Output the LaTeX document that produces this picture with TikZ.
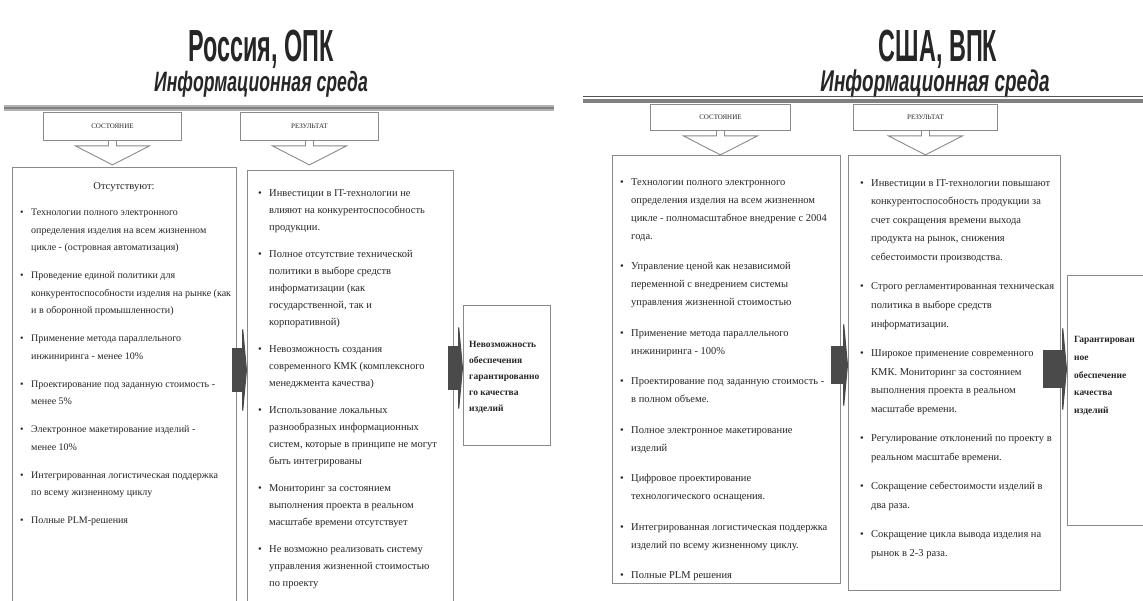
\documentclass[tikz,border=0pt]{standalone}
\usepackage{fontspec}
\setmainfont{Liberation Serif}
\newfontfamily\titlefont[FakeStretch=0.52]{Liberation Sans}
\newfontfamily\subfont[FakeStretch=0.63]{Liberation Sans}
\usetikzlibrary{arrows.meta,calc,positioning}
\definecolor{inkdark}{HTML}{262626}
\definecolor{boxgray}{HTML}{8A8A8A}
\definecolor{rulegray}{HTML}{808080}
\definecolor{linkdark}{HTML}{4A4A4A}
\tikzset{every node/.append style={text=inkdark}}
\tikzset{
  panel/.style={draw=boxgray,line width=0.9pt,anchor=north west,inner sep=0pt},
  headbox/.style={draw=boxgray,line width=0.9pt,anchor=north west,inner sep=0pt,
    font=\fontsize{7}{8}\selectfont},
  listtext/.style={anchor=north west,align=left,inner sep=0pt},
  verdict/.style={anchor=north west,align=left,inner sep=0pt},
  bigtitle/.style={font=\titlefont\bfseries\fontsize{45}{45}\selectfont,inner sep=0pt,anchor=base},
  subtitle/.style={font=\subfont\bfseries\itshape\fontsize{28}{28}\selectfont,inner sep=0pt,anchor=base},
  blockarrow/.style={draw=linkdark,line width=44pt,-{Triangle[width=108pt,length=5pt]}},
  headpointer/.pic={\draw[boxgray,line width=0.9pt]
    (-4,0) -- (-4,5) -- (-37,5) -- (0,24) -- (37,5) -- (4,5) -- (4,0);}
}
\newcommand\bul{\makebox[11pt][l]{\textbullet}}
\newcommand\ind{\hspace*{11pt}}

\begin{document}
\begin{tikzpicture}[x=1pt,y=-1pt]
  \useasboundingbox (0,0) rectangle (1143,601);
  \clip (0,0) rectangle (1143,601);
  \fill[white] (0,0) rectangle (1143,601);

  % Russia
  \node[bigtitle] (rsTitle) at (261,62) {Россия, ОПК};
  \node[subtitle] (rsSub) at (261,92) {Информационная среда};
  \draw[rulegray!60,line width=6pt] (4,108) -- (554,108);
  \draw[rulegray,line width=2.5pt] (4,108) -- (554,108);

  \node[headbox,minimum width=138pt,minimum height=28pt] (rsHeadState) at (43,112) {СОСТОЯНИЕ};
  \node[headbox,minimum width=138pt,minimum height=28pt] (rsHeadResult) at (240,112) {РЕЗУЛЬТАТ};
  \pic at (rsHeadState.south) {headpointer};
  \pic at (rsHeadResult.south) {headpointer};

  \node[panel,minimum width=224pt,minimum height=440pt] (rsState) at (12,167) {};
  \node[panel,minimum width=206pt,minimum height=440pt] (rsResult) at (247,170) {};
  \node[panel,minimum width=87pt,minimum height=140pt] (rsVerdict) at (463,305) {};

  \node[font=\fontsize{10.5}{12}\selectfont] (rsAbsent) at (124,187) {Отсутствуют:};
  \node[listtext,font=\fontsize{10}{17.5}\selectfont] (rsStateList) at (20,209) {%
    \bul Технологии полного электронного\\
    \ind определения изделия на всем жизненном\\
    \ind цикле - (островная автоматизация)\\[10.5pt]
    \bul Проведение единой политики для\\
    \ind конкурентоспособности изделия на рынке (как\\
    \ind и в оборонной промышленности)\\[10.5pt]
    \bul Применение метода параллельного\\
    \ind инжиниринга - менее 10\%\\[10.5pt]
    \bul Проектирование под заданную стоимость -\\
    \ind менее 5\%\\[10.5pt]
    \bul Электронное макетирование изделий -\\
    \ind менее 10\%\\[10.5pt]
    \bul Интегрированная логистическая поддержка\\
    \ind по всему жизненному циклу\\[10.5pt]
    \bul Полные PLM-решения};

  \node[listtext,font=\fontsize{10.5}{17}\selectfont] (rsResultList) at (258,189) {%
    \bul Инвестиции в IT-технологии не\\
    \ind влияют на конкурентоспособность\\
    \ind продукции.\\[10pt]
    \bul Полное отсутствие технической\\
    \ind политики в выборе средств\\
    \ind информатизации (как\\
    \ind государственной, так и\\
    \ind корпоративной)\\[10pt]
    \bul Невозможность создания\\
    \ind современного КМК (комплексного\\
    \ind менеджмента качества)\\[10pt]
    \bul Использование локальных\\
    \ind разнообразных информационных\\
    \ind систем, которые в принципе не могут\\
    \ind быть интегрированы\\[10pt]
    \bul Мониторинг за состоянием\\
    \ind выполнения проекта в реальном\\
    \ind масштабе времени отсутствует\\[10pt]
    \bul Не возможно реализовать систему\\
    \ind управления жизненной стоимостью\\
    \ind по проекту};

  \node[verdict,font=\bfseries\fontsize{9.5}{16}\selectfont] (rsVerdictText) at (469,341) {%
    Невозможность\\ обеспечения\\ гарантированно\\ го качества\\ изделий};

  \draw[blockarrow] ($(rsState.east|-0,370)+(-5,0)$) -- (rsResult.west|-0,370);
  \draw[blockarrow] ($(rsResult.east|-0,368)+(-6,0)$) -- (rsVerdict.west|-0,368);

  % USA
  \node[bigtitle] (usTitle) at (938,62) {США, ВПК};
  \node[subtitle,font=\subfont\bfseries\itshape\fontsize{30}{30}\selectfont] (usSub) at (935,92) {Информационная среда};
  \draw[inkdark!80,line width=1pt] (583,97) -- (1143,97);
  \draw[rulegray,line width=3.5pt] (583,101) -- (1143,101);

  \node[headbox,minimum width=140pt,minimum height=26pt] (usHeadState) at (650,104) {СОСТОЯНИЕ};
  \node[headbox,minimum width=144pt,minimum height=26pt] (usHeadResult) at (853,104) {РЕЗУЛЬТАТ};
  \pic at (usHeadState.south) {headpointer};
  \pic at (usHeadResult.south) {headpointer};

  \node[panel,minimum width=228pt,minimum height=428pt] (usState) at (612,155) {};
  \node[panel,minimum width=212pt,minimum height=435pt] (usResult) at (848,155) {};
  \node[panel,minimum width=90pt,minimum height=250pt] (usVerdict) at (1067,275) {};

  \node[listtext,font=\fontsize{10.5}{18}\selectfont] (usStateList) at (620,178) {%
    \bul Технологии полного электронного\\
    \ind определения изделия на всем жизненном\\
    \ind цикле - полномасштабное внедрение с 2004\\
    \ind года.\\[12.5pt]
    \bul Управление ценой как независимой\\
    \ind переменной с внедрением системы\\
    \ind управления жизненной стоимостью\\[12.5pt]
    \bul Применение метода параллельного\\
    \ind инжиниринга - 100\%\\[12.5pt]
    \bul Проектирование под заданную стоимость -\\
    \ind в полном объеме.\\[12.5pt]
    \bul Полное электронное макетирование\\
    \ind изделий\\[12.5pt]
    \bul Цифровое проектирование\\
    \ind технологического оснащения.\\[12.5pt]
    \bul Интегрированная логистическая поддержка\\
    \ind изделий по всему жизненному циклу.\\[12.5pt]
    \bul Полные PLM решения};

  \node[listtext,font=\fontsize{10.5}{18.6}\selectfont] (usResultList) at (860,179) {%
    \bul Инвестиции в IT-технологии повышают\\
    \ind конкурентоспособность продукции за\\
    \ind счет сокращения времени выхода\\
    \ind продукта на рынок, снижения\\
    \ind себестоимости производства.\\[10.8pt]
    \bul Строго регламентированная техническая\\
    \ind политика в выборе средств\\
    \ind информатизации.\\[10.8pt]
    \bul Широкое применение современного\\
    \ind КМК. Мониторинг за состоянием\\
    \ind выполнения проекта в реальном\\
    \ind масштабе времени.\\[10.8pt]
    \bul Регулирование отклонений по проекту в\\
    \ind реальном масштабе времени.\\[10.8pt]
    \bul Сокращение себестоимости изделий в\\
    \ind два раза.\\[10.8pt]
    \bul Сокращение цикла вывода изделия на\\
    \ind рынок в 2-3 раза.};

  \node[verdict,font=\bfseries\fontsize{9.5}{17.8}\selectfont] (usVerdictText) at (1074,336) {%
    Гарантирован\\ ное\\ обеспечение\\ качества\\ изделий};

  \draw[blockarrow,line width=38pt] ($(usState.east|-0,365)+(-10,0)$) -- (usResult.west|-0,365);
  \draw[blockarrow,line width=38pt] ($(usResult.east|-0,369)+(-18,0)$) -- (usVerdict.west|-0,369);
\end{tikzpicture}
\end{document}
